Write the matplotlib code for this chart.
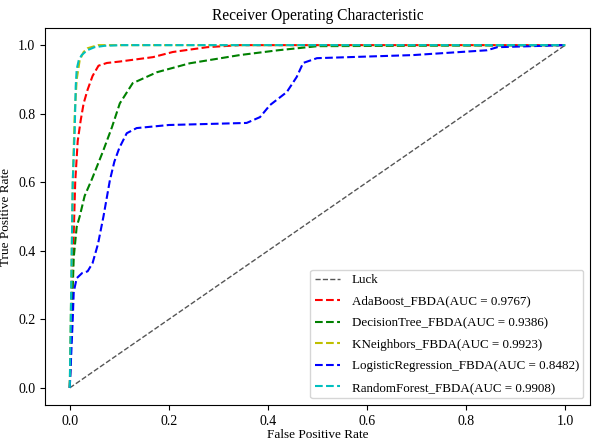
import matplotlib
matplotlib.use('Agg')
import matplotlib.pyplot as plt

plt.rcParams['font.family'] = ['Liberation Serif', 'DejaVu Serif']

names = ['AdaBoost_FBDA', 'DecisionTree_FBDA', 'KNeighbors_FBDA',
         'LogisticRegression_FBDA', 'RandomForest_FBDA']
aucs = [0.9767, 0.9386, 0.9923, 0.8482, 0.9908]
colors = ['r', 'g', 'y', 'b', 'c']

# roc points
ada_fpr = [0.0, 0.004, 0.008, 0.011, 0.016, 0.022, 0.028, 0.036, 0.046, 0.058, 0.075, 0.1, 0.168, 0.208, 0.277, 0.343, 1.0]
ada_tpr = [0.0, 0.25, 0.45, 0.6, 0.72, 0.78, 0.83, 0.87, 0.91, 0.94, 0.948, 0.952, 0.965, 0.98, 0.994, 1.0, 1.0]

dt_fpr = [0.0, 0.004, 0.008, 0.014, 0.02, 0.03, 0.045, 0.067, 0.085, 0.101, 0.127, 0.176, 0.242, 0.343, 0.42, 0.5, 1.0]
dt_tpr = [0.0, 0.2, 0.38, 0.47, 0.5, 0.56, 0.61, 0.69, 0.76, 0.83, 0.889, 0.921, 0.947, 0.971, 0.985, 0.997, 1.0]

knn_fpr = [0.0, 0.003, 0.006, 0.01, 0.014, 0.02, 0.028, 0.036, 0.057, 1.0]
knn_tpr = [0.0, 0.3, 0.6, 0.8, 0.9, 0.956, 0.98, 0.991, 1.0, 1.0]

lr_fpr = [0.0, 0.006, 0.008, 0.014, 0.025, 0.036, 0.046, 0.057, 0.068, 0.081, 0.09, 0.1, 0.115, 0.135, 0.2, 0.357, 0.384,
          0.404, 0.438, 0.458, 0.471, 0.499, 0.693, 0.842, 0.863, 1.0]
lr_tpr = [0.0, 0.2, 0.28, 0.32, 0.335, 0.34, 0.364, 0.42, 0.5, 0.606, 0.66, 0.7, 0.743, 0.758, 0.767, 0.773, 0.79,
          0.825, 0.863, 0.907, 0.948, 0.962, 0.971, 0.985, 0.994, 1.0]

rf_fpr = [0.0, 0.003, 0.006, 0.01, 0.012, 0.014, 0.018, 0.024, 0.035, 0.05, 0.07, 0.105, 1.0]
rf_tpr = [0.0, 0.3, 0.6, 0.75, 0.88, 0.93, 0.955, 0.971, 0.985, 0.994, 0.998, 1.0, 1.0]

fprs = [ada_fpr, dt_fpr, knn_fpr, lr_fpr, rf_fpr]
tprs = [ada_tpr, dt_tpr, knn_tpr, lr_tpr, rf_tpr]

fig = plt.figure(figsize=(5.92, 4.41), dpi=100)
ax = fig.add_axes([0.076, 0.0816, 0.9206, 0.8549])

ax.plot([0, 1], [0, 1], linestyle='--', lw=1, color='#555555', label='Luck')
for idx in range(len(names)):
    ax.plot(fprs[idx], tprs[idx], linestyle='--', lw=1.5, color=colors[idx],
            label='%s(AUC = %0.4f)' % (names[idx], aucs[idx]))

ax.set_xlim(-0.05, 1.05)
ax.set_ylim(-0.05, 1.05)
ax.set_xlabel('False Positive Rate', fontsize=9.5, labelpad=1)
ax.set_ylabel('True Positive Rate', fontsize=9.5)
ax.set_title('Receiver Operating Characteristic', fontsize=11.2)
ax.tick_params(labelsize=10)
ax.legend(loc='lower right', fontsize=9.4, labelspacing=0.72, borderpad=0.35,
          handlelength=1.9, handletextpad=0.9)

plt.savefig('out.png', dpi=100)
plt.close()
